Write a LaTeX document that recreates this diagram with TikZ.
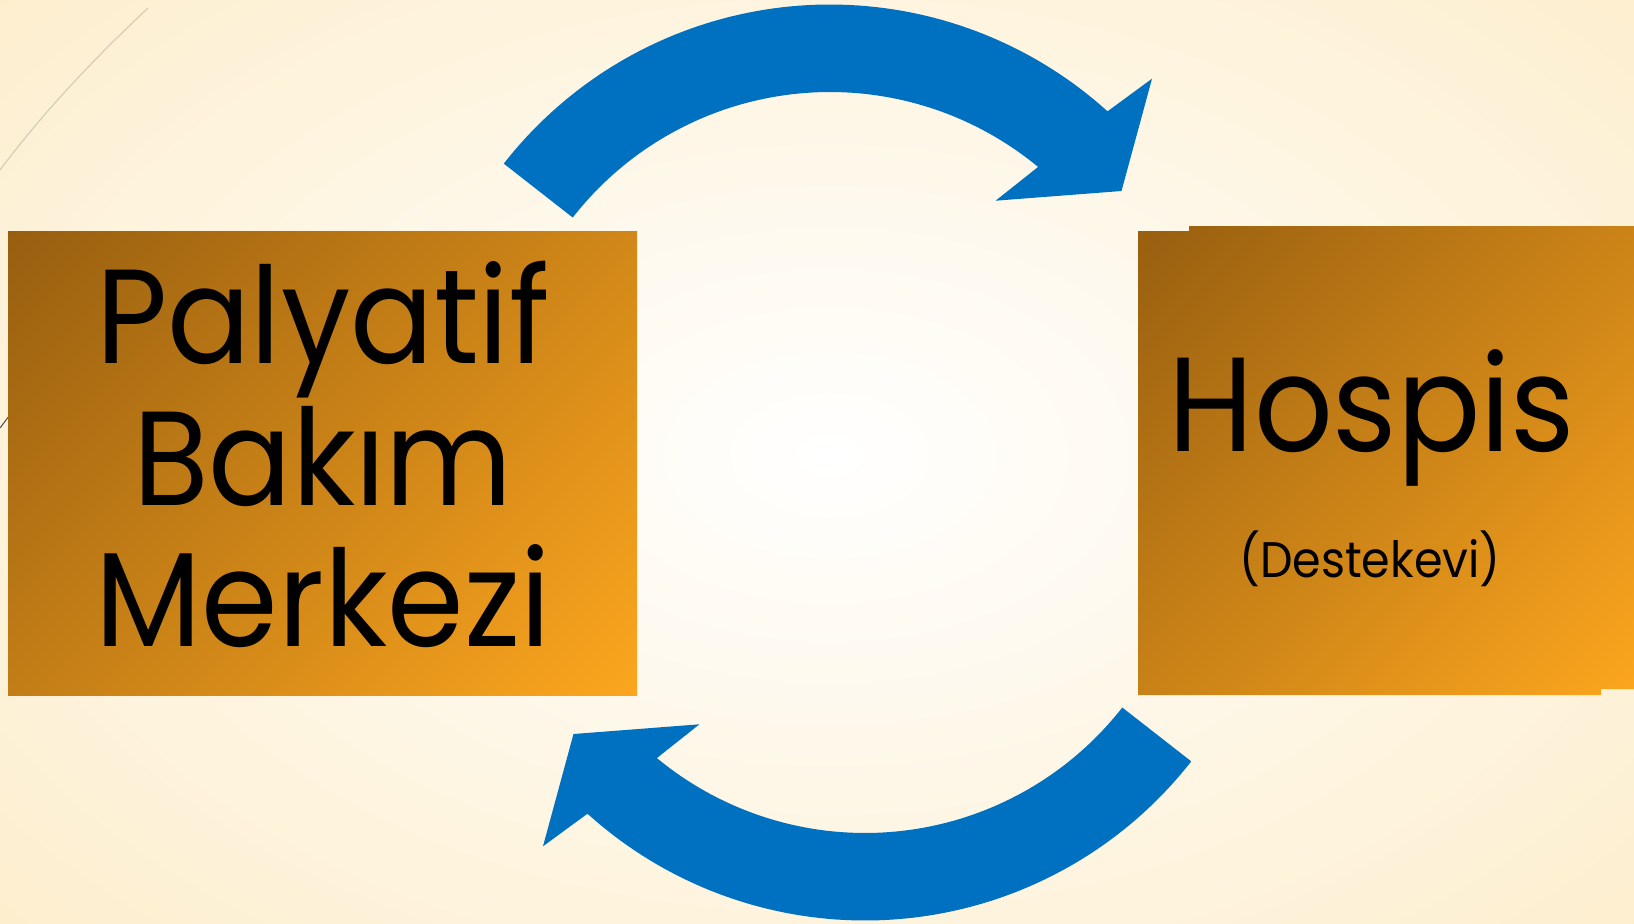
\documentclass[tikz,border=0pt]{standalone}
\usepackage{fontspec}
\setmainfont[FakeStretch=0.92]{Poppins}
\definecolor{bgcream}{RGB}{253,238,205}
\definecolor{boxdark}{RGB}{152,95,16}
\definecolor{boxlight}{RGB}{252,166,30}
\definecolor{arrowblue}{RGB}{0,112,192}
\definecolor{linetan}{RGB}{214,205,182}
\pgfdeclareverticalshading{boxgrad}{100bp}{color(0bp)=(boxlight); color(14.6bp)=(boxlight); color(85.4bp)=(boxdark); color(100bp)=(boxdark)}
\tikzset{
  boxshade/.style={shading=boxgrad, shading angle=45},
  bigtext/.style={font=\fontsize{134}{140}\selectfont, inner sep=0pt, anchor=base, text=black},
  smalltext/.style={font=\fontsize{50}{56}\selectfont, inner sep=0pt, anchor=base, text=black},
  cyclearrow/.style={fill=arrowblue}
}
\begin{document}
\begin{tikzpicture}[x=1pt,y=-1pt]
\useasboundingbox (0,0) rectangle (1634,924);
% background
\shade[inner color=white, outer color=bgcream] (-300,-250) rectangle (1960,1160);
% decorative lines
\draw[linetan, line width=1.2pt] (148,8) .. controls (95,58) and (45,110) .. (0,170);
\draw[black!70, line width=1pt] (0,428) -- (9,416);
% left box
\shade[boxshade] (8,231) rectangle (637,695);
\node[bigtext] (p1) at (323,363.7) {Palyatif};
\node[bigtext] (p2) at (323,505.4) {Bakım};
\node[bigtext] (p3) at (323,646) {Merkezi};
% right box
\shade[boxshade] (1138,231) rectangle (1601,695) (1189,226) rectangle (1634,689);
\node[bigtext] (hos) at (1372,451) {Hospis};
\node[smalltext] (dst) at (1370,577) {(Destekevi)};
% top arrow
\fill[cyclearrow]
  plot[domain=-142:-47.9, samples=80] ({830+414*cos(\x)}, {418.5+414*sin(\x)})
  -- (1152,78.7) -- (1121.5,191) -- (995.6,200.7)
  -- plot[domain=-50.4:-142, samples=80] ({830+326.5*cos(\x)}, {418.5+326.5*sin(\x)})
  -- cycle;
% bottom arrow (same shape turned half a turn)
\begin{scope}[rotate around={180:(847.5,462.5)}]
\fill[cyclearrow]
  plot[domain=-142:-47.9, samples=80] ({830+414*cos(\x)}, {418.5+414*sin(\x)})
  -- (1152,78.7) -- (1121.5,191) -- (995.6,200.7)
  -- plot[domain=-50.4:-142, samples=80] ({830+326.5*cos(\x)}, {418.5+326.5*sin(\x)})
  -- cycle;
\end{scope}
\end{tikzpicture}
\end{document}
